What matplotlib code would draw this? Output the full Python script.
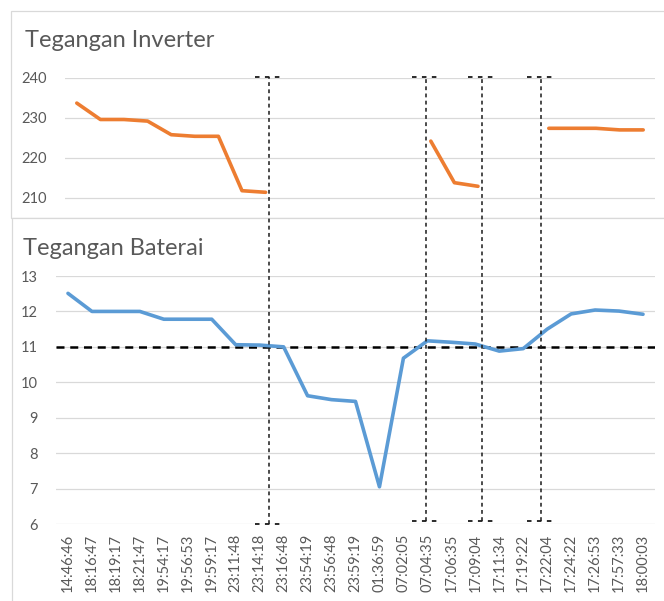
import numpy as np
import matplotlib
matplotlib.use("Agg")
import matplotlib.pyplot as plt
from matplotlib.patches import Rectangle
from matplotlib.lines import Line2D
from matplotlib.transforms import blended_transform_factory

# data
times = ["14:46:46", "18:16:47", "18:19:17", "18:21:47", "19:54:17",
         "19:56:53", "19:59:17", "23:11:48", "23:14:18", "23:16:48",
         "23:54:19", "23:56:48", "23:59:19", "01:36:59", "07:02:05",
         "07:04:35", "17:06:35", "17:09:04", "17:11:34", "17:19:22",
         "17:22:04", "17:24:22", "17:26:53", "17:57:33", "18:00:03"]

nan = np.nan
inverter = [233.6, 229.5, 229.5, 229.1, 225.7, 225.3, 225.3, 211.7, 211.3,
            nan, nan, nan, nan, nan, nan,
            224.1, 213.7, 212.8, nan, nan,
            227.3, 227.3, 227.3, 226.9, 226.9]

baterai = [12.51, 12.0, 12.0, 12.0, 11.78, 11.78, 11.78, 11.06, 11.05, 11.0,
           9.62, 9.51, 9.46, 7.05, 10.68, 11.17, 11.13, 11.08, 10.88, 10.95,
           11.5, 11.93, 12.04, 12.01, 11.92]

inv_ticks = [210, 220, 230, 240]
bat_ticks = [6, 7, 8, 9, 10, 11, 12, 13]
batas_bawah = 11  # threshold line

# event markers (category units on the battery axis)
event_pos = [8.39, 14.94, 17.27, 19.74]
event_bottom = [6.0, 6.08, 6.08, 6.08]

W, H = 664, 601
DPI = 100
GRID = "#D9D9D9"
TXT = "#595959"
ORANGE = "#ED7D31"
BLUE = "#5B9BD5"
FONT = "Lato"

plt.rcParams["font.family"] = [FONT, "DejaVu Sans"]

fig = plt.figure(figsize=(W / DPI, H / DPI), dpi=DPI)
fig.patch.set_facecolor("white")


def px_rect(left, top, right, bottom):
    # pixel box (origin top-left) -> figure fraction rect
    return [left / W, 1 - bottom / H, (right - left) / W, (bottom - top) / H]


# panel frames
fig.add_artist(Rectangle((11 / W, 1 - 218 / H), 1, (218 - 11) / H,
                         transform=fig.transFigure, fc="white", ec=GRID, lw=0.9, zorder=0))
fig.add_artist(Rectangle((12 / W, 1 - 610 / H), 1, (610 - 218) / H,
                         transform=fig.transFigure, fc="white", ec=GRID, lw=0.9, zorder=0))

x = np.arange(len(times))

# ---- top chart: Tegangan Inverter
ax1 = fig.add_axes(px_rect(65, 77.5, 655, 217.5))
ax1.set_facecolor("none")
ax1.plot(x, inverter, color=ORANGE, lw=2.6, solid_capstyle="round", solid_joinstyle="round", zorder=3)
ax1.set_xlim(-0.5, len(times) - 0.5)
ax1.set_ylim(205, 240)
ax1.set_yticks(inv_ticks)
ax1.set_xticks([])
ax1.grid(axis="y", color=GRID, lw=0.9)
ax1.tick_params(axis="y", length=0, pad=13, labelsize=10.5, labelcolor=TXT)
for s in ax1.spines.values():
    s.set_visible(False)
fig.text(25 / W, 1 - 47 / H, "Tegangan Inverter", fontsize=17, color=TXT,
         ha="left", va="baseline")

# ---- bottom chart: Tegangan Baterai
ax2 = fig.add_axes(px_rect(56, 276, 655, 524))
ax2.set_facecolor("none")
ax2.plot(x, baterai, color=BLUE, lw=2.6, solid_capstyle="round", solid_joinstyle="round", zorder=3)
ax2.axhline(batas_bawah, color="black", lw=1.8, linestyle=(0, (3.2, 2.3)), zorder=2)
ax2.set_xlim(-0.5, len(times) - 0.5)
ax2.set_ylim(6, 13)
ax2.set_yticks(bat_ticks)
ax2.set_xticks(x)
ax2.set_xticklabels(times, rotation=90)
ax2.grid(axis="y", color=GRID, lw=0.9)
ax2.tick_params(axis="y", length=0, pad=13, labelsize=10.5, labelcolor=TXT)
ax2.tick_params(axis="x", length=0, pad=7, labelsize=10.5, labelcolor=TXT)
for s in ax2.spines.values():
    s.set_visible(False)
fig.text(23 / W, 1 - 255 / H, "Tegangan Baterai", fontsize=17, color=TXT,
         ha="left", va="baseline")

# ---- dashed event markers spanning both charts
to_fig = fig.transFigure.inverted()
y_top = to_fig.transform(ax1.transData.transform((0, 240.1)))[1]
trans = blended_transform_factory(ax2.transData, fig.transFigure)
dash = (0, (2.5, 2.2))
for xp, yb in zip(event_pos, event_bottom):
    y_bot = to_fig.transform(ax2.transData.transform((0, yb)))[1]
    fig.add_artist(Line2D([xp, xp], [y_bot, y_top], transform=trans,
                          color="#1a1a1a", lw=1.1, linestyle=dash, zorder=5))
    for yy in (y_bot, y_top):
        fig.add_artist(Line2D([xp - 0.58, xp + 0.58], [yy, yy], transform=trans,
                              color="#1a1a1a", lw=1.3, linestyle=(0, (2.5, 3)), zorder=5))

fig.savefig("out.png", dpi=DPI, facecolor="white")
